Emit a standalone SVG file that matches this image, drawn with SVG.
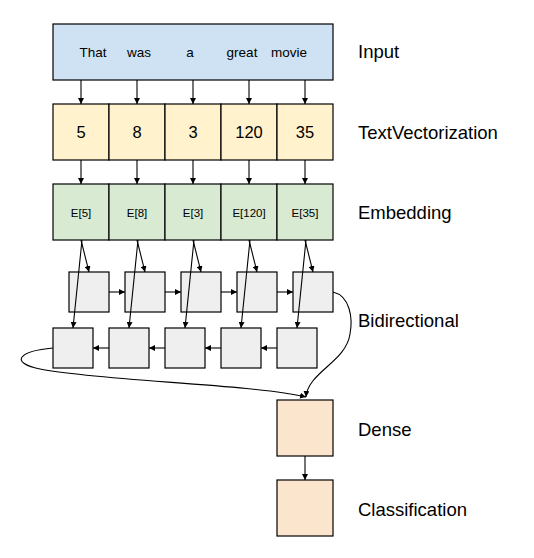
<svg xmlns="http://www.w3.org/2000/svg" width="534" height="558" viewBox="0 0 534 558">
<style>
.box{stroke:#000;stroke-width:1.2}
.in{fill:#cfe2f3}.tv{fill:#fff2cc}.em{fill:#d9ead3}.rn{fill:#efefef}.dn{fill:#fce5cd}
text{font-family:"Liberation Sans",Arial,sans-serif;fill:#000}
.w{font-size:13.5px;text-anchor:middle}
.n{font-size:16.5px;text-anchor:middle}
.e{font-size:11.5px;text-anchor:middle}
.lb{font-size:18.5px}
.c{fill:none;stroke:#000;stroke-width:1.1;marker-end:url(#ah)}
</style>
<defs>
<marker id="ah" viewBox="0 0 10 10" refX="10" refY="5" markerWidth="6" markerHeight="6" markerUnits="userSpaceOnUse" orient="auto">
<path d="M0,0 L10,5 L0,10 z" fill="#000"/>
</marker>
</defs>
<rect width="534" height="558" fill="#fff"/>

<g id="input">
<rect class="box in" x="53" y="24" width="280" height="56"/>
<text class="w" x="93" y="57">That</text>
<text class="w" x="139" y="57">was</text>
<text class="w" x="190" y="57">a</text>
<text class="w" x="242" y="57">great</text>
<text class="w" x="289" y="57">movie</text>
</g>

<g id="textvectorization">
<rect class="box tv" x="53" y="104" width="56" height="56"/>
<rect class="box tv" x="109" y="104" width="56" height="56"/>
<rect class="box tv" x="165" y="104" width="56" height="56"/>
<rect class="box tv" x="221" y="104" width="56" height="56"/>
<rect class="box tv" x="277" y="104" width="56" height="56"/>
<text class="n" x="81" y="138">5</text>
<text class="n" x="137" y="138">8</text>
<text class="n" x="193" y="138">3</text>
<text class="n" x="249" y="138">120</text>
<text class="n" x="305" y="138">35</text>
</g>

<g id="embedding">
<rect class="box em" x="53" y="184" width="56" height="56"/>
<rect class="box em" x="109" y="184" width="56" height="56"/>
<rect class="box em" x="165" y="184" width="56" height="56"/>
<rect class="box em" x="221" y="184" width="56" height="56"/>
<rect class="box em" x="277" y="184" width="56" height="56"/>
<text class="e" x="81" y="217">E[5]</text>
<text class="e" x="137" y="217">E[8]</text>
<text class="e" x="193" y="217">E[3]</text>
<text class="e" x="249" y="217">E[120]</text>
<text class="e" x="305" y="217">E[35]</text>
</g>

<g id="forward">
<rect class="box rn" x="69" y="272" width="40" height="40"/>
<rect class="box rn" x="125" y="272" width="40" height="40"/>
<rect class="box rn" x="181" y="272" width="40" height="40"/>
<rect class="box rn" x="237" y="272" width="40" height="40"/>
<rect class="box rn" x="293" y="272" width="40" height="40"/>
</g>

<g id="backward">
<rect class="box rn" x="53" y="328" width="40" height="40"/>
<rect class="box rn" x="109" y="328" width="40" height="40"/>
<rect class="box rn" x="165" y="328" width="40" height="40"/>
<rect class="box rn" x="221" y="328" width="40" height="40"/>
<rect class="box rn" x="277" y="328" width="40" height="40"/>
</g>

<g id="dense">
<rect class="box dn" x="277" y="400" width="56" height="56"/>
</g>

<g id="classification">
<rect class="box dn" x="277" y="480" width="56" height="56"/>
</g>

<g id="labels">
<text class="lb" x="358" y="58">Input</text>
<text class="lb" x="358" y="139">TextVectorization</text>
<text class="lb" x="358" y="219">Embedding</text>
<text class="lb" x="358" y="327">Bidirectional</text>
<text class="lb" x="358" y="436">Dense</text>
<text class="lb" x="358" y="516">Classification</text>
</g>

<g id="connectors">
<path class="c" d="M81,80 V104"/>
<path class="c" d="M137,80 V104"/>
<path class="c" d="M193,80 V104"/>
<path class="c" d="M249,80 V104"/>
<path class="c" d="M305,80 V104"/>
<path class="c" d="M81,160 V184"/>
<path class="c" d="M137,160 V184"/>
<path class="c" d="M193,160 V184"/>
<path class="c" d="M249,160 V184"/>
<path class="c" d="M305,160 V184"/>
<path class="c" d="M81,240 L89,272"/>
<path class="c" d="M137,240 L145,272"/>
<path class="c" d="M193,240 L201,272"/>
<path class="c" d="M249,240 L257,272"/>
<path class="c" d="M305,240 L313,272"/>
<path class="c" d="M82,240 L73,328"/>
<path class="c" d="M138,240 L129,328"/>
<path class="c" d="M194,240 L185,328"/>
<path class="c" d="M250,240 L241,328"/>
<path class="c" d="M306,240 L297,328"/>
<path class="c" d="M109,292 H125"/>
<path class="c" d="M165,292 H181"/>
<path class="c" d="M221,292 H237"/>
<path class="c" d="M277,292 H293"/>
<path class="c" d="M109,348 H93"/>
<path class="c" d="M165,348 H149"/>
<path class="c" d="M221,348 H205"/>
<path class="c" d="M277,348 H261"/>
<path class="c" d="M333,292 C350,296 353,318 350,334 C346,362 308,372 306,397"/>
<path class="c" d="M53,348 C20,351 8,362 40,369 C100,381 250,384 306,397"/>
<path class="c" d="M305,456 V480"/>
</g>
</svg>
